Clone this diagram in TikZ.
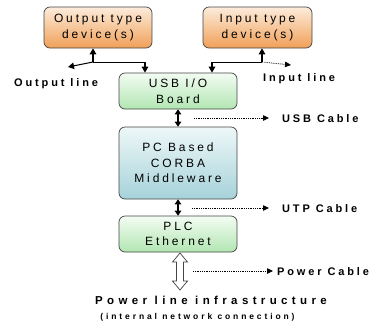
\documentclass[tikz,border=0pt]{standalone}
\usepackage{fontspec}
\setmainfont{Liberation Sans}
\usetikzlibrary{arrows.meta}

\definecolor{orTop}{HTML}{FDECDB}
\definecolor{orBot}{HTML}{F0A058}
\definecolor{grTop}{HTML}{F3FCF3}
\definecolor{grBot}{HTML}{B2E6B2}
\definecolor{blTop}{HTML}{EEF8F8}
\definecolor{blBot}{HTML}{A6D2DA}
\definecolor{edge}{HTML}{444444}

\begin{document}
\begin{tikzpicture}[x=1pt,y=-1pt,
  box/.style={draw=edge, line width=0.7pt, rounded corners=6pt, align=center,
    inner sep=0pt, shading angle=0,
    font=\fontsize{12}{15.5}\selectfont\addfontfeature{LetterSpace=24}},
  orangebox/.style={box, top color=orTop, bottom color=orBot},
  greenbox/.style={box, top color=grTop, bottom color=grBot},
  bluebox/.style={box, top color=blTop, bottom color=blBot},
  lab/.style={inner sep=0pt, anchor=west,
    font=\bfseries\fontsize{11}{12}\selectfont\addfontfeature{LetterSpace=26}},
  tip/.style={-{Triangle[length=6pt,width=6.5pt]}},
  heavy/.style={tip, line width=1.6pt},
  thin/.style={line width=0.8pt},
  twoway/.style={{Triangle[length=5pt,width=6.5pt]}-{Triangle[length=5pt,width=6.5pt]}, line width=2pt},
  cable/.style={-{Triangle[length=6pt,width=5.5pt]}, line width=0.8pt, densely dotted},
]
\useasboundingbox (0,0) rectangle (377,322);

% device boxes
\node[orangebox, minimum width=108pt, minimum height=41pt] (outdev) at (98,27.5) {Output type\\device(s)};
\node[orangebox, minimum width=109pt, minimum height=41pt] (indev) at (257.5,27.5) {Input type\\device(s)};

% stack of blocks
\node[greenbox, minimum width=118pt, minimum height=36pt] (usb) at (178,91) {USB I/O\\Board};
\node[bluebox, minimum width=118pt, minimum height=72pt] (pc) at (178,163) {PC Based\\CORBA\\Middleware};
\node[greenbox, minimum width=118pt, minimum height=36pt] (plc) at (178,234) {PLC\\Ethernet};

% side labels
\node[lab] (outline) at (14,83.5) {Output line};
\node[lab] (inline) at (263,78.5) {Input line};
\node[lab] (usbcab) at (282,119) {USB Cable};
\node[lab] (utpcab) at (282,209) {UTP Cable};
\node[lab] (powcab) at (277,272) {Power Cable};
\node[inner sep=0pt, font=\bfseries\fontsize{11.5}{12}\selectfont\addfontfeature{LetterSpace=38}] (infra) at (211,300.5) {Power line infrastructure};
\node[inner sep=0pt, font=\bfseries\fontsize{8.5}{10}\selectfont\addfontfeature{LetterSpace=34}] (infra2) at (197.5,317.5) {(internal network connection)};

% output side junction
\coordinate (jo) at (93,62);
\coordinate (jod) at (145,62);
\coordinate (otip) at (68,67);
\draw[heavy] (jo) -- (jo |- outdev.south);
\draw[thin] (jo) -- (jod);
\draw[heavy] (jod) -- (jod |- usb.north);
\draw[tip, line width=1pt] (jo) -- (otip);

% input side junction
\coordinate (ji) at (262,62);
\coordinate (jid) at (212,62);
\coordinate (itip) at (291,65);
\draw[heavy] (ji) -- (ji |- indev.south);
\draw[thin] (ji) -- (jid);
\draw[heavy] (jid) -- (jid |- usb.north);
\draw[cable] (ji) -- (itip);

% links between blocks
\draw[twoway] (usb.south) -- (pc.north);
\draw[twoway] (pc.south) -- (plc.north);

% cable arrows
\coordinate (usbstart) at (194,118);
\coordinate (utpstart) at (192,208);
\coordinate (powstart) at (193,271);
\draw[cable] (usbstart) -- ([xshift=-13pt]usbcab.west |- usbstart);
\draw[cable] (utpstart) -- ([xshift=-13pt]utpcab.west |- utpstart);
\draw[cable] (powstart) -- ([xshift=-4pt]powcab.west |- powstart);

% hollow two-way arrow to the power line
\draw[draw=edge, fill=white, line width=0.7pt]
  (180,253) -- (187.5,262) -- (183.5,262) -- (183.5,281) -- (187.5,281) -- (180,290)
  -- (172.5,281) -- (176.5,281) -- (176.5,262) -- (172.5,262) -- cycle;
\end{tikzpicture}
\end{document}
